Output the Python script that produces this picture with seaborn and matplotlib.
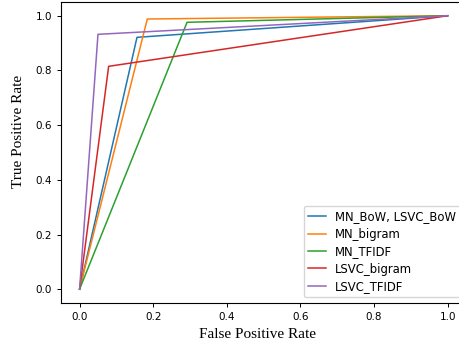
import numpy as np
import pandas as pd
import matplotlib
matplotlib.use("Agg")
import matplotlib.pyplot as plt
import seaborn as sns

# ROC points: (0,0) -> (fpr, tpr) -> (1,1)
models = ["MN_BoW, LSVC_BoW", "MN_bigram", "MN_TFIDF", "LSVC_bigram", "LSVC_TFIDF"]
fpr_mid = [0.156, 0.184, 0.292, 0.079, 0.050]
tpr_mid = [0.921, 0.988, 0.976, 0.815, 0.932]

rows = []
for m, f, t in zip(models, fpr_mid, tpr_mid):
    for x, y in [(0.0, 0.0), (f, t), (1.0, 1.0)]:
        rows.append({"model": m, "fpr": x, "tpr": y})
df = pd.DataFrame(rows)

fig = plt.figure(figsize=(4.6, 3.43), dpi=100)
ax = fig.add_axes([0.133, 0.117, 0.88, 0.877])
sns.lineplot(data=df, x="fpr", y="tpr", hue="model", palette="tab10",
             sort=False, estimator=None, linewidth=1.1, ax=ax)

ax.set_xlim(-0.05, 1.05)
ax.set_ylim(-0.05, 1.05)
ax.set_xticks([0.0, 0.2, 0.4, 0.6, 0.8, 1.0])
ax.set_yticks([0.0, 0.2, 0.4, 0.6, 0.8, 1.0])
ax.tick_params(labelsize=7.5, length=3, width=0.7)
for s in ax.spines.values():
    s.set_linewidth(0.8)
ax.set_xlabel("False Positive Rate", family="Liberation Serif", fontsize=11)
ax.set_ylabel("True Positive Rate", family="Liberation Serif", fontsize=11)
ax.xaxis.set_label_coords(0.486, -0.083)
ax.yaxis.set_label_coords(-0.09, 0.57)
ax.legend(loc="lower right", fontsize=8.4, handlelength=1.5, labelspacing=0.38,
          borderpad=0.35, bbox_to_anchor=(1.0, 0.0))

fig.savefig("out.png", dpi=100)
